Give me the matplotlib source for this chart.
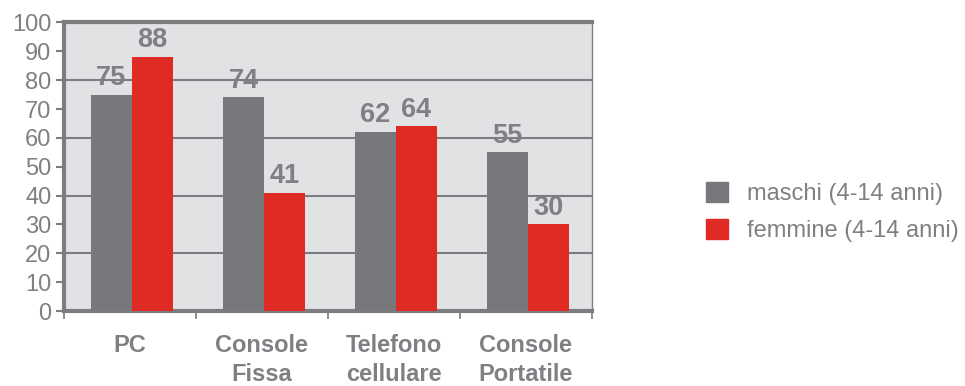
import matplotlib.pyplot as plt
import numpy as np
from matplotlib.patches import Patch

plt.rcParams['font.family'] = ['Liberation Sans', 'DejaVu Sans']

categories = ['PC', 'Console\nFissa', 'Telefono\ncellulare', 'Console\nPortatile']
maschi = [75, 74, 62, 55]
femmine = [88, 41, 64, 30]
series_labels = ['maschi (4-14 anni)', 'femmine (4-14 anni)']

GRAY = '#77787b'
RED = '#e02b25'
TEXT = '#7f8083'
LINE = '#7c7d80'

fig = plt.figure(figsize=(9.65, 3.86), dpi=100)
ax = fig.add_axes([0.0663, 0.194, 0.547, 0.748])
ax.set_facecolor('#e1e2e4')

x = np.arange(len(categories))
w = 0.31
ax.bar(x + 0.015 - w / 2, maschi, w, color=GRAY, zorder=3)
ax.bar(x + 0.015 + w / 2, femmine, w, color=RED, zorder=3)

for xi, m, f in zip(x, maschi, femmine):
    ax.text(xi + 0.015 - w / 2, m + 1.3, str(m), ha='center', va='bottom',
            fontsize=19.5, fontweight='bold', color=TEXT, zorder=4)
    ax.text(xi + 0.015 + w / 2, f + 1.3, str(f), ha='center', va='bottom',
            fontsize=19.5, fontweight='bold', color=TEXT, zorder=4)

ax.set_xlim(-0.5, len(categories) - 0.5)
ax.set_ylim(0, 100)

# gridlines every 20, ticks every 10
for g in range(20, 100, 20):
    ax.axhline(g, color=LINE, lw=1.5, zorder=1)

ax.set_yticks(range(0, 101, 10))
ax.tick_params(axis='y', direction='out', length=6, width=1.5, color=LINE,
               labelsize=17, labelcolor=TEXT, pad=3)

# category separators on the x axis
ax.set_xticks(np.arange(-0.5, len(categories), 1.0))
ax.set_xticklabels([])
ax.tick_params(axis='x', direction='out', length=6, width=1.2, color=LINE)
for xi, c in zip(x, categories):
    ax.text(xi, -7.8, c, ha='center', va='top', fontsize=17, fontweight='bold',
            color=TEXT, linespacing=1.35, transform=ax.transData)

for s in ['left', 'top', 'bottom']:
    ax.spines[s].set_color(LINE)
    ax.spines[s].set_linewidth(3)
ax.spines['right'].set_color(LINE)
ax.spines['right'].set_linewidth(1)

handles = [Patch(color=GRAY), Patch(color=RED)]
fig.legend(handles, series_labels, loc='center left', bbox_to_anchor=(0.71, 0.45),
           frameon=False, fontsize=17, labelcolor=TEXT, handlelength=0.9,
           handleheight=0.9, handletextpad=0.8, labelspacing=0.6)

fig.savefig('out.png', dpi=100)
